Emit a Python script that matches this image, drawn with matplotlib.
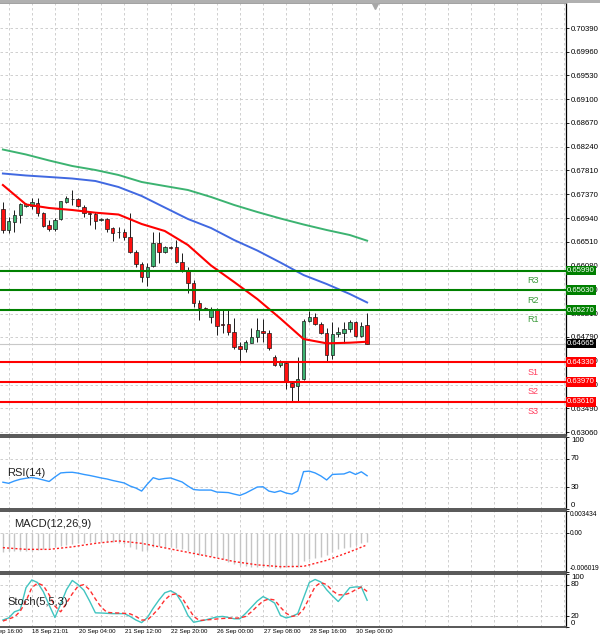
import matplotlib
matplotlib.use('Agg')
import matplotlib.pyplot as plt
import matplotlib.transforms as mtransforms
from matplotlib.patches import Rectangle
import numpy as np

plt.rcParams['font.family'] = ['Liberation Sans', 'DejaVu Sans']

# ---------------- data ----------------
opens = [0.67100, 0.66725, 0.66876, 0.66997, 0.67166, 0.67166, 0.67220, 0.67028, 0.66816, 0.66738,
         0.66925, 0.67238, 0.67282, 0.67282, 0.67148, 0.67033, 0.67015, 0.66901, 0.66919, 0.66756,
         0.66689, 0.66694, 0.66592, 0.66331, 0.66108, 0.65878, 0.66077, 0.66484, 0.66320, 0.66411,
         0.66411, 0.66150, 0.65999, 0.65758, 0.65395, 0.65310, 0.65152, 0.65273, 0.65014, 0.65014,
         0.64874, 0.64620, 0.64566, 0.64680, 0.64778, 0.64898, 0.64862, 0.64426, 0.64276, 0.64317,
         0.63954, 0.63894, 0.64016, 0.65079, 0.65152, 0.65014, 0.64851, 0.64457, 0.64833, 0.64862,
         0.64923, 0.65061, 0.64807, 0.65001]
highs = [0.67228, 0.66966, 0.67088, 0.67209, 0.67220, 0.67311, 0.67300, 0.67057, 0.66906, 0.66937,
         0.67257, 0.67342, 0.67451, 0.67300, 0.67179, 0.67057, 0.67046, 0.66948, 0.66948, 0.66785,
         0.66774, 0.66743, 0.67028, 0.66362, 0.66150, 0.66121, 0.66683, 0.66694, 0.66440, 0.66435,
         0.66543, 0.66302, 0.66059, 0.65818, 0.65455, 0.65322, 0.65333, 0.65315, 0.65273, 0.65273,
         0.65128, 0.64698, 0.64729, 0.64941, 0.65123, 0.65105, 0.64910, 0.64457, 0.64366, 0.64335,
         0.63991, 0.64415, 0.65105, 0.65261, 0.65214, 0.65061, 0.64941, 0.65061, 0.64970, 0.65061,
         0.65092, 0.65079, 0.65061, 0.65214]
lows = [0.66676, 0.66676, 0.66694, 0.66847, 0.67142, 0.67100, 0.66984, 0.66774, 0.66701, 0.66707,
        0.66906, 0.67220, 0.67179, 0.67137, 0.66966, 0.66816, 0.66743, 0.66888, 0.66694, 0.66525,
        0.66574, 0.66543, 0.66302, 0.66059, 0.65787, 0.65709, 0.66059, 0.66121, 0.66302, 0.66375,
        0.66121, 0.65968, 0.65576, 0.65333, 0.65092, 0.65286, 0.65043, 0.64820, 0.64851, 0.64820,
        0.64566, 0.64335, 0.64511, 0.64669, 0.64698, 0.64698, 0.64548, 0.64257, 0.64245, 0.63835,
        0.63622, 0.63622, 0.64003, 0.65056, 0.65001, 0.64833, 0.64354, 0.64384, 0.64789, 0.64669,
        0.64880, 0.64789, 0.64789, 0.64657]
closes = [0.66725, 0.66894, 0.66997, 0.67191, 0.67191, 0.67233, 0.67028, 0.66803, 0.66738, 0.66906,
          0.67246, 0.67300, 0.67287, 0.67160, 0.67028, 0.67021, 0.66894, 0.66925, 0.66738, 0.66676,
          0.66680, 0.66592, 0.66331, 0.66108, 0.65878, 0.66059, 0.66484, 0.66320, 0.66411, 0.66404,
          0.66150, 0.65986, 0.65758, 0.65395, 0.65304, 0.65299, 0.65273, 0.64989, 0.65005, 0.64869,
          0.64608, 0.64566, 0.64687, 0.64789, 0.64910, 0.64862, 0.64579, 0.64276, 0.64335, 0.63972,
          0.63882, 0.64016, 0.65079, 0.65152, 0.65014, 0.64851, 0.64457, 0.64838, 0.64869, 0.64923,
          0.65050, 0.64807, 0.64989, 0.64665]

ma_idx = [0, 4, 8, 12, 16, 20, 24, 28, 32, 36, 40, 44, 48, 52, 56, 60, 63]
ma_red = [0.67541, 0.67188, 0.67124, 0.67088, 0.67039, 0.67006, 0.66834, 0.66707, 0.66453,
          0.66081, 0.65781, 0.65473, 0.65119, 0.64747, 0.64669, 0.64680, 0.64698]
ma_blue = [0.67750, 0.67714, 0.67687, 0.67659, 0.67614, 0.67505, 0.67342, 0.67133, 0.66925,
           0.66761, 0.66543, 0.66353, 0.66135, 0.65908, 0.65745, 0.65564, 0.65410]
ma_green = [0.68185, 0.68095, 0.67986, 0.67886, 0.67814, 0.67723, 0.67596, 0.67523, 0.67451,
            0.67324, 0.67179, 0.67052, 0.66934, 0.66825, 0.66725, 0.66634, 0.66531]

res_levels = [0.65990, 0.65630, 0.65270]
res_names = ['R3', 'R2', 'R1']
sup_levels = [0.64330, 0.63970, 0.63610]
sup_names = ['S1', 'S2', 'S3']
last_price = 0.64665

price_ticks = [0.70390, 0.69960, 0.69530, 0.69100, 0.68670, 0.68240, 0.67810, 0.67370, 0.66940,
               0.66510, 0.66080, 0.65650, 0.65210, 0.64790, 0.64350, 0.63920, 0.63490, 0.63060]

rsi = [37.2, 35.7, 38.9, 41.3, 42.7, 43.8, 42.4, 40.3, 38.2, 44.5,
       50.1, 50.8, 51.0, 49.8, 48.0, 46.6, 44.9, 43.1, 41.7, 39.6,
       37.9, 36.1, 31.9, 29.1, 24.9, 34.7, 43.5, 41.0, 42.4, 43.1,
       40.3, 37.5, 31.9, 27.0, 26.3, 26.3, 26.3, 23.5, 23.2, 22.8,
       20.7, 18.9, 22.1, 26.3, 30.5, 30.9, 24.9, 23.1, 25.3, 22.1,
       20.7, 24.9, 51.9, 52.6, 50.1, 45.9, 40.3, 48.0, 48.4, 48.7,
       51.7, 48.0, 51.7, 46.2]

macd_hist = [-0.002851, -0.002820, -0.002789, -0.002743, -0.002712, -0.002696, -0.002588, -0.002433, -0.002278, -0.002123,
             -0.001968, -0.001813, -0.001658, -0.001550, -0.001503, -0.001426, -0.001348, -0.001302, -0.001302, -0.001348,
             -0.001503, -0.001736, -0.002123, -0.002433, -0.002743, -0.002588, -0.002123, -0.002046, -0.002077, -0.002123,
             -0.002278, -0.002510, -0.002743, -0.003130, -0.003363, -0.003440, -0.003518, -0.003673, -0.003983, -0.004447,
             -0.004757, -0.004990, -0.005114, -0.005176, -0.005176, -0.005222, -0.005300, -0.005377, -0.005331, -0.005300,
             -0.005222, -0.005176, -0.004293, -0.004060, -0.003905, -0.003673, -0.003440, -0.002898, -0.002510, -0.002278,
             -0.002077, -0.001813, -0.001581, -0.001302]
macd_signal = [-0.002247, -0.002510, -0.002510, -0.002123, -0.001581, -0.001193, -0.001581, -0.002278, -0.002975,
               -0.003673, -0.004401, -0.004912, -0.005191, -0.005145, -0.004215, -0.002898, -0.001813]
macd_range = (-0.006019, 0.003434)

stoch_main = [13.2, 17.1, 28.7, 32.6, 74.2, 88.8, 83.9, 66.5, 41.3, 18.0,
              43.2, 70.3, 87.8, 80.0, 69.4, 49.0, 26.7, 26.4, 25.8, 25.2,
              25.2, 25.2, 20.0, 13.2, 8.3, 18.0, 35.5, 51.0, 64.5, 68.4,
              62.6, 45.2, 21.9, 8.9, 11.2, 13.2, 16.1, 19.0, 20.0, 18.0,
              15.5, 15.5, 25.8, 37.4, 49.0, 57.4, 51.9, 45.2, 21.9, 17.1,
              20.0, 25.2, 54.8, 83.9, 89.7, 84.9, 70.3, 58.7, 48.1, 60.7,
              74.2, 75.6, 75.6, 50.4]
stoch_signal = [11.2, 15.1, 19.0, 29.7, 49.0, 74.2, 82.9, 78.1, 60.7, 39.3,
                28.7, 45.2, 62.6, 77.1, 80.0, 70.3, 52.9, 37.4, 27.7, 26.7,
                26.4, 25.8, 24.8, 20.0, 13.2, 13.2, 23.8, 35.5, 51.0, 60.7,
                62.6, 54.8, 37.4, 20.0, 12.2, 13.2, 14.1, 15.1, 16.1, 16.5,
                16.7, 17.1, 20.0, 28.7, 39.3, 49.0, 52.9, 51.0, 37.4, 25.8,
                20.0, 21.9, 33.5, 54.8, 76.2, 83.9, 80.0, 68.4, 60.7, 60.7,
                64.0, 70.3, 75.2, 67.1]

date_idx = [-3, 5, 13, 21, 29, 37, 45, 53, 61]
date_labels = ['17 Sep 16:00', '18 Sep 21:01', '20 Sep 04:00', '21 Sep 12:00', '22 Sep 20:00',
               '26 Sep 00:00', '27 Sep 08:00', '28 Sep 16:00', '30 Sep 00:00']

# ---------------- layout ----------------
W, H = 600, 642
fig = plt.figure(figsize=(W / 100, H / 100), dpi=100)
fig.patch.set_facecolor('white')

def rect(top, bottom, right=566):
    return [0, 1 - bottom / H, right / W, (bottom - top) / H]

ax = fig.add_axes(rect(3, 435))
ax_rsi = fig.add_axes(rect(437, 509), sharex=ax)
ax_macd = fig.add_axes(rect(511, 572), sharex=ax)
ax_st = fig.add_axes(rect(574, 627), sharex=ax)
axes = [ax, ax_rsi, ax_macd, ax_st]

GRID = '#c8c8c8'
DASH = (0, (3, 3))
XLIM = (-0.5, 97.4)
grid_x = np.arange(1, 98, 4)

for a in axes:
    a.set_facecolor('white')
    a.set_xlim(*XLIM)
    a.spines['left'].set_visible(False)
    a.spines['right'].set_color('black')
    a.spines['right'].set_linewidth(0.9)
    for s in ('top', 'bottom'):
        a.spines[s].set_color('#4a4a4a')
        a.spines[s].set_linewidth(1.3)
    a.tick_params(axis='x', bottom=False, labelbottom=False)
    a.yaxis.tick_right()
    a.tick_params(axis='y', labelsize=5.6, length=2, width=0.6, pad=1.5, colors='black')
    for gx in grid_x:
        a.axvline(gx, color=GRID, lw=0.6, ls=DASH, zorder=0)

# ---------------- main price panel ----------------
ax.set_ylim(0.630056, 0.708436)
ax.set_yticks(price_ticks)
ax.set_yticklabels(['%.5f' % t for t in price_ticks])
for t in price_ticks:
    ax.axhline(t, color=GRID, lw=0.6, ls=DASH, zorder=0)
ax.spines['top'].set_color('#9a9a9a')

o = np.array(opens); h = np.array(highs); l = np.array(lows); c = np.array(closes)
x = np.arange(len(o))
up = c >= o
ax.vlines(x, l, h, color='#1a1a1a', lw=0.7, zorder=3)
body_bottom = np.minimum(o, c)
body_h = np.maximum(np.abs(c - o), 0.00002)
ax.bar(x, body_h, bottom=body_bottom, width=0.6,
       color=np.where(up, '#3cb371', '#ff1010'), edgecolor='#1a1a1a', linewidth=0.5, zorder=4)

ax.plot(ma_idx, ma_green, color='#3cb371', lw=1.4, zorder=5)
ax.plot(ma_idx, ma_blue, color='#4169e1', lw=1.4, zorder=5)
ax.plot(ma_idx, ma_red, color='#ff0000', lw=1.5, zorder=5)

ax.axhline(last_price, color='#c8c8c8', lw=0.8, zorder=1)

blend = mtransforms.blended_transform_factory(ax.transAxes, ax.transData)
for lev, name in zip(res_levels, res_names):
    ax.axhline(lev, color='#008000', lw=1.5, zorder=6)
    ax.annotate(name, xy=(0.9417, lev), xycoords=blend, xytext=(0, -7), textcoords='offset points',
                ha='center', va='center', fontsize=6.5, color='#3a9a3a')
    ax.text(1.002, lev, '%.5f' % lev, transform=blend, ha='left', va='center', fontsize=5.6,
            color='white', clip_on=False, zorder=10,
            bbox=dict(boxstyle='square,pad=0.18', fc='#008000', ec='none'))
for lev, name in zip(sup_levels, sup_names):
    ax.axhline(lev, color='#ff0000', lw=1.5, zorder=6)
    ax.annotate(name, xy=(0.9417, lev), xycoords=blend, xytext=(0, -7.2), textcoords='offset points',
                ha='center', va='center', fontsize=6.5, color='#ff4060')
    ax.text(1.002, lev, '%.5f' % lev, transform=blend, ha='left', va='center', fontsize=5.6,
            color='white', clip_on=False, zorder=10,
            bbox=dict(boxstyle='square,pad=0.18', fc='#ff0000', ec='none'))
ax.text(1.002, last_price, '%.5f' % last_price, transform=blend, ha='left', va='center', fontsize=5.6,
        color='white', clip_on=False, zorder=10,
        bbox=dict(boxstyle='square,pad=0.18', fc='black', ec='none'))
ax.plot([0.6625], [0.992], marker='v', color='#a8a8a8', ms=4, transform=ax.transAxes,
        clip_on=False, zorder=10)

# ---------------- RSI ----------------
ax_rsi.set_ylim(0, 100)
ax_rsi.set_yticks([100, 70, 30, 0])
ax_rsi.set_yticklabels(['100', '70', '30', '0'])
for lbl, va in zip(ax_rsi.get_yticklabels(), ['top', 'center', 'center', 'bottom']):
    lbl.set_va(va)
for lv in (70, 30):
    ax_rsi.axhline(lv, color=GRID, lw=0.6, ls=DASH, zorder=0)
ax_rsi.plot(x, rsi, color='#3399ff', lw=1.0, zorder=3)
ax_rsi.text(0.013, 0.5, 'RSI(14)', transform=ax_rsi.transAxes, fontsize=8, color='#202020',
            ha='left', va='center', zorder=5)

# ---------------- MACD ----------------
ax_macd.set_ylim(*macd_range)
ax_macd.set_yticks([macd_range[1], 0, macd_range[0]])
ax_macd.set_yticklabels(['%.6f' % macd_range[1], '0.00', '%.6f' % macd_range[0]])
ax_macd.tick_params(axis='y', labelsize=4.8, pad=0.6)
for lbl, va in zip(ax_macd.get_yticklabels(), ['top', 'center', 'bottom']):
    lbl.set_va(va)
ax_macd.axhline(0, color=GRID, lw=0.6, ls=DASH, zorder=0)
ax_macd.vlines(x, 0, macd_hist, color='#c4c4c4', lw=1.0, zorder=2)
ax_macd.plot(ma_idx, macd_signal, color='#ff2020', lw=1.0, ls=(0, (1.5, 1.5)), zorder=3)
ax_macd.text(0.025, 0.78, 'MACD(12,26,9)', transform=ax_macd.transAxes, fontsize=8, color='#202020',
             ha='left', va='center', zorder=5)

# ---------------- Stochastic ----------------
ax_st.set_ylim(0, 100)
ax_st.set_yticks([100, 80, 20, 0])
ax_st.set_yticklabels(['100', '80', '20', '0'])
for lbl, va in zip(ax_st.get_yticklabels(), ['top', 'center', 'center', 'bottom']):
    lbl.set_va(va)
for lv in (80, 20):
    ax_st.axhline(lv, color=GRID, lw=0.6, ls=DASH, zorder=0)
ax_st.plot(x, stoch_main, color='#40c4c0', lw=1.0, zorder=3)
ax_st.plot(x, stoch_signal, color='#ff3030', lw=1.0, ls=(0, (3, 2)), zorder=3)
ax_st.text(0.013, 0.47, 'Stoch(5,5,3)', transform=ax_st.transAxes, fontsize=8, color='#202020',
           ha='left', va='center', zorder=5)

# date labels under the last panel
bt = mtransforms.blended_transform_factory(ax_st.transData, ax_st.transAxes)
for di, dl in zip(date_idx, date_labels):
    ax_st.text(di + 0.1, -0.03, dl, transform=bt, ha='left', va='top', fontsize=4.4,
               color='black', clip_on=False)

# top frame strip
fig.patches.append(Rectangle((0, 1 - 2.5 / H), 1, 2.5 / H, transform=fig.transFigure,
                             facecolor='#b0b0b0', edgecolor='none', zorder=20))

fig.savefig('out.png', dpi=100, facecolor='white')
